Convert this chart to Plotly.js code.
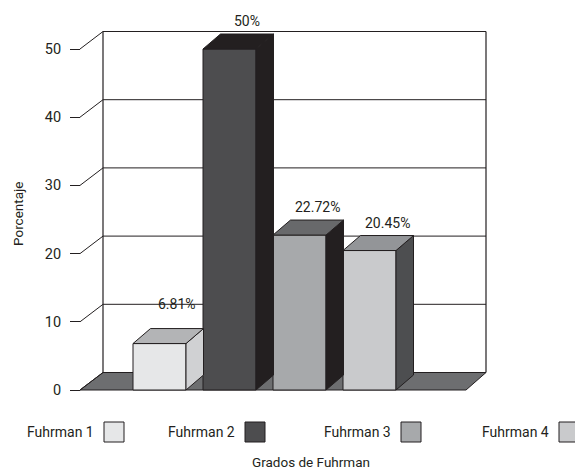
<!DOCTYPE html>
<html>
<head>
<meta charset="utf-8">
<script src="https://cdn.plot.ly/plotly-3.0.1.min.js"></script>
<style>html,body{margin:0;padding:0;background:#fff}#chart{width:575px;height:470px}</style>
</head>
<body>
<div id="chart"></div>
<script>
// ---- data ----
const categories = ['Fuhrman 1', 'Fuhrman 2', 'Fuhrman 3', 'Fuhrman 4'];
const values = [6.81, 50, 22.72, 20.45];
const valueLabels = ['6.81%', '50%', '22.72%', '20.45%'];
const tickValues = [0, 10, 20, 30, 40, 50];
const tickLabels = ['0', '10', '20', '30', '40', '50'];
const yTitle = 'Porcentaje';
const xTitle = 'Grados de Fuhrman';

// ---- styles ----
const frontColors = ['#e6e7e8', '#4d4d4f', '#a7a9ab', '#c9cacc'];
const topColors = ['#b3b4b6', '#231f20', '#68696b', '#939598'];
const sideColors = ['#d0d1d3', '#231f20', '#231f20', '#4d4e50'];
const ink = '#231f20';
const floorColor = '#6d6e70';
const FONT = 'Roboto, "Liberation Sans", Arial, sans-serif';
const FS = 14;

// ---- layout geometry (pixels) ----
const W = 575, H = 470;
const FIRST_CENTER = 159.5, STEP = 70;   // category spacing
const Y0 = 390, YS = 6.82;               // y=0 pixel, px per unit
const BAR_W = 53 / STEP;
const BDX = 17.5 / STEP, BDY = 15 / YS;  // bar depth
const WDY = 17.5 / YS;                   // wall depth (vertical)
const xOf = p => (p - FIRST_CENTER) / STEP;
const backLeft = xOf(103), backRight = xOf(486);
const frontLeft = xOf(80), frontRight = xOf(466);
const labelShift = [25, 13, 13, 13];
const legendBoxX = [104, 245, 401, 559];
const legendY = 432;

const shapes = [];
const annotations = [];

// floor
shapes.push({type: 'path', layer: 'below', xref: 'x', yref: 'y',
  path: `M${frontLeft},0 L${backLeft},${WDY} L${backRight},${WDY} L${frontRight},0 Z`,
  fillcolor: floorColor, line: {color: ink, width: 1}});
// back wall verticals
const topV = tickValues[tickValues.length - 1];
[backLeft, backRight].forEach(x => shapes.push({type: 'line', layer: 'below', xref: 'x', yref: 'y',
  x0: x, x1: x, y0: WDY, y1: topV + WDY, line: {color: ink, width: 1.2}}));
// gridlines + tick connectors
tickValues.forEach(v => {
  if (v > 0) shapes.push({type: 'line', layer: 'below', xref: 'x', yref: 'y',
    x0: backLeft, x1: backRight, y0: v + WDY, y1: v + WDY, line: {color: ink, width: 1}});
  shapes.push({type: 'line', layer: 'below', xref: 'x', yref: 'y',
    x0: frontLeft, x1: backLeft, y0: v, y1: v + WDY, line: {color: ink, width: 1}});
});

// bar side & top faces
values.forEach((v, i) => {
  const xl = i - BAR_W / 2, xr = i + BAR_W / 2;
  shapes.push({type: 'path', layer: 'above', xref: 'x', yref: 'y',
    path: `M${xr},0 L${xr + BDX},${BDY} L${xr + BDX},${v + BDY} L${xr},${v} Z`,
    fillcolor: sideColors[i], line: {color: ink, width: 1}});
  shapes.push({type: 'path', layer: 'above', xref: 'x', yref: 'y',
    path: `M${xl},${v} L${xl + BDX},${v + BDY} L${xr + BDX},${v + BDY} L${xr},${v} Z`,
    fillcolor: topColors[i], line: {color: ink, width: 1}});
  annotations.push({xref: 'x', yref: 'y', x: i + BDX, y: v + BDY, yshift: labelShift[i],
    text: valueLabels[i], showarrow: false, xanchor: 'center', yanchor: 'middle',
    font: {family: FONT, size: FS, color: ink}});
});

// legend (text left of swatch)
categories.forEach((c, i) => {
  const bx = legendBoxX[i];
  shapes.push({type: 'rect', xref: 'paper', yref: 'paper',
    x0: bx / W, x1: (bx + 20) / W, y0: 1 - (legendY + 10) / H, y1: 1 - (legendY - 10) / H,
    fillcolor: frontColors[i], line: {color: ink, width: 1}});
  annotations.push({xref: 'paper', yref: 'paper', x: (bx - 8) / W, y: 1 - legendY / H,
    text: c, showarrow: false, xanchor: 'right', yanchor: 'middle',
    font: {family: FONT, size: FS, color: ink}});
});

// axis titles
annotations.push({xref: 'paper', yref: 'paper', x: 311 / W, y: 1 - 462 / H, text: xTitle,
  showarrow: false, xanchor: 'center', yanchor: 'middle', font: {family: FONT, size: 13.5, color: ink}});
annotations.push({xref: 'paper', yref: 'paper', x: 18 / W, y: 1 - 214 / H, text: yTitle, textangle: -90,
  showarrow: false, xanchor: 'center', yanchor: 'middle', font: {family: FONT, size: 13.5, color: ink}});

const trace = {type: 'bar', x: categories, y: values, width: BAR_W,
  marker: {color: frontColors, line: {color: ink, width: 1}},
  hoverinfo: 'none', showlegend: false};

const layout = {
  width: W, height: H,
  margin: {l: 0, r: 0, t: 0, b: 0},
  paper_bgcolor: '#fff', plot_bgcolor: 'rgba(0,0,0,0)',
  showlegend: false,
  xaxis: {type: 'category', range: [xOf(0), xOf(W)], visible: false, fixedrange: true},
  yaxis: {range: [(Y0 - H) / YS, Y0 / YS], tickvals: tickValues, ticktext: tickLabels,
    ticks: 'outside', ticklen: 10, tickwidth: 1, tickcolor: ink,
    showgrid: false, zeroline: false, showline: false,
    anchor: 'free', position: 80 / W, ticklabelstandoff: 6,
    tickfont: {family: FONT, size: 14.5, color: ink}, fixedrange: true},
  shapes: shapes,
  annotations: annotations,
  font: {family: FONT, color: ink}
};

Plotly.newPlot('chart', [trace], layout, {staticPlot: true, displayModeBar: false});
</script>
</body>
</html>
